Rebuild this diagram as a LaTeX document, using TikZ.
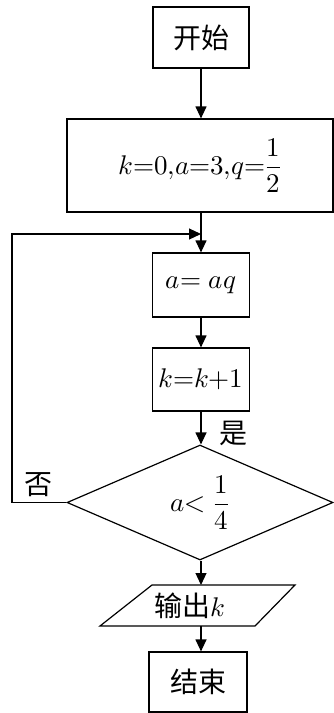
\documentclass[tikz,border=0pt]{standalone}
\usepackage{amsmath}
\usepackage{fontspec}
\usepackage{unicode-math}
\setmathfont{Latin Modern Math}
\newfontfamily\cjkfam{Noto Sans CJK SC}
\usetikzlibrary{arrows.meta,shapes.geometric}
\begin{document}
\begin{tikzpicture}[x=1pt,y=-1pt,
  flow/.style={draw,line width=1.2pt,inner sep=0pt,font={\fontsize{28}{32}\selectfont\cjkfam}},
  dec/.style={shape=diamond,draw,line width=1.2pt,inner sep=0pt},
  arr/.style={line width=1.2pt,-{Triangle[length=12pt,width=11pt]}},
  lbl/.style={inner sep=0pt,font={\fontsize{28}{32}\selectfont\cjkfam}},
  mth/.style={font={\fontsize{27}{31}\selectfont}}]
\useasboundingbox (0,0) rectangle (334,713);

\node[flow,minimum width=96pt,minimum height=61pt] (start) at (201,37.5) {开始};
\node[flow,mth,minimum width=266pt,minimum height=93pt] (init) at (200,165.5)
  {$k{=}0{,}a{=}3{,}q{=}\dfrac{1}{2}$};
\coordinate (merge) at (201,234);
\node[flow,mth,minimum width=97pt,minimum height=64pt] (assign) at (201,285) {$a{=}\;aq$};
\node[flow,mth,minimum width=97pt,minimum height=63pt] (incr) at (201,379.5) {$k{=}k{+}1$};
\node[dec,mth,minimum width=266pt,minimum height=115pt] (dia) at (200,502.5) {$a{<}\;\dfrac{1}{4}$};

\draw[line width=1.2pt] (100,626) -- (152,585) -- (295,585) -- (255,626) -- cycle;
\coordinate (outtop) at (201,585);
\coordinate (outbot) at (201,626);
\node[lbl] (out) at (190,606) {输出{\fontsize{27}{31}\selectfont$k$}};

\node[flow,minimum width=98pt,minimum height=60pt] (end) at (198,682) {结束};

\node[lbl] (yes) at (233,433) {是};
\node[lbl] (no) at (38,485) {否};

\draw[arr] (start.south) -- (start.south |- init.north);
\draw[arr] (assign.north |- init.south) -- (assign.north);
\draw[arr] (assign.south) -- (incr.north);
\draw[arr] (incr.south) -- (incr.south |- dia.north);
\draw[arr] (dia.west) -- (12,502.5) |- (merge);
\draw[arr] (dia.south -| outtop) -- (outtop);
\draw[arr] (outbot) -- (outbot |- end.north);
\end{tikzpicture}
\end{document}
